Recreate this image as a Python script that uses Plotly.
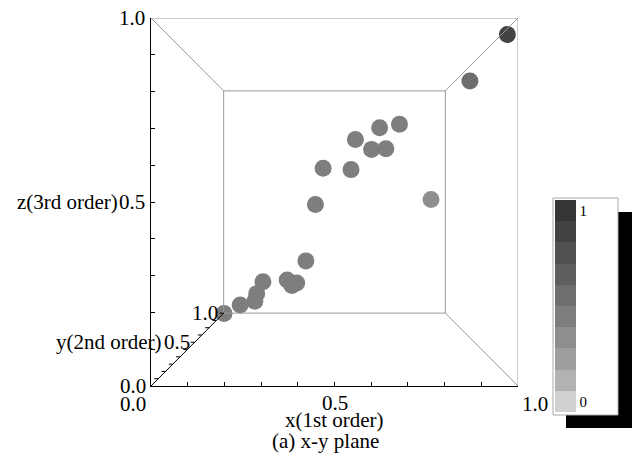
import plotly.graph_objects as go

# Projected positions of the samples on the front frame (x across, z up), unit scale
x_proj = [0.199, 0.243, 0.283, 0.288, 0.305, 0.371, 0.384, 0.397, 0.422, 0.448,
          0.469, 0.545, 0.557, 0.601, 0.640, 0.623, 0.677, 0.763, 0.869, 0.971]
z_proj = [0.197, 0.220, 0.230, 0.251, 0.283, 0.288, 0.273, 0.280, 0.340, 0.493,
          0.592, 0.588, 0.670, 0.643, 0.645, 0.702, 0.711, 0.507, 0.829, 0.955]
# Colour value of each sample (0..1)
level = [0.45, 0.45, 0.45, 0.45, 0.45, 0.45, 0.45, 0.45, 0.45, 0.45,
         0.45, 0.45, 0.45, 0.45, 0.45, 0.45, 0.45, 0.35, 0.55, 0.85]

# Ten grey steps of the colour scale, from 0 (light) to 1 (dark)
band_colors = ["#d0d0d0", "#b2b2b2", "#9e9e9e", "#8e8e8e", "#7e7e7e",
               "#6e6e6e", "#5f5f5f", "#515151", "#434343", "#353535"]
colorbar_ticks = [0.05, 0.95]
colorbar_ticktext = ["0", "1"]

depth_ticks = [i / 10 for i in range(1, 11)]
depth_shrink = 0.396  # how much the back face shrinks relative to the front

W, H = 632, 458
L, R, T, B = 151, 518, 18, 386
FONT = "Liberation Serif, Times New Roman, serif"
FS = 21


def px(x):
    return (x - L) / (R - L)


def py(y):
    return (B - y) / (B - T)


def proj(v, d):
    return 0.5 + (v - 0.5) * (1 - depth_shrink * d)


scale = []
n = len(band_colors)
for i, c in enumerate(band_colors):
    scale.append([i / n, c])
    scale.append([(i + 1) / n, c])

fig = go.Figure()
fig.add_trace(go.Scatter(
    x=x_proj, y=z_proj, mode="markers", cliponaxis=False, showlegend=False,
    marker=dict(size=17, color=level, cmin=0, cmax=1, colorscale=scale,
                line=dict(width=0),
                colorbar=dict(
                    x=px(555), xanchor="left", xpad=0,
                    y=py(306), yanchor="middle", ypad=0,
                    lenmode="pixels", len=212, thickness=21,
                    outlinewidth=0, borderwidth=0, bgcolor="rgba(0,0,0,0)",
                    tickmode="array", tickvals=colorbar_ticks,
                    ticktext=colorbar_ticktext, ticks="", ticklen=0,
                    tickfont=dict(family=FONT, size=15, color="black"),
                ))))

shapes = []
grey = "#9a9a9a"
# back face
b0, b1 = proj(0, 1), proj(1, 1)
shapes.append(dict(type="rect", xref="x", yref="y", x0=b0, x1=b1, y0=b0, y1=b1,
                   line=dict(color=grey, width=1)))
# top and right edges of the front face
shapes.append(dict(type="line", xref="x", yref="y", x0=0, y0=1, x1=1, y1=1,
                   line=dict(color=grey, width=1)))
shapes.append(dict(type="line", xref="x", yref="y", x0=1, y0=0, x1=1, y1=1,
                   line=dict(color=grey, width=1)))
# receding edges
for cx, cz in [(0, 1), (1, 1), (1, 0)]:
    shapes.append(dict(type="line", xref="x", yref="y", x0=cx, y0=cz,
                       x1=proj(cx, 1), y1=proj(cz, 1), line=dict(color=grey, width=1)))
# depth (y) axis along the lower-left receding edge
shapes.append(dict(type="line", xref="x", yref="y", x0=0, y0=0,
                   x1=proj(0, 1), y1=proj(0, 1), line=dict(color="black", width=1)))
tick_w = 4 / (R - L)
for d in depth_ticks:
    p = proj(0, d)
    shapes.append(dict(type="line", xref="x", yref="y", x0=p - tick_w, y0=p,
                       x1=p, y1=p, line=dict(color="black", width=1)))

# colour bar box with drop shadow
shapes.append(dict(type="rect", xref="paper", yref="paper",
                   x0=px(566), x1=px(632), y0=py(428), y1=py(212),
                   line=dict(width=0), fillcolor="black", layer="above"))
shapes.append(dict(type="rect", xref="paper", yref="paper",
                   x0=px(553), x1=px(618), y0=py(415), y1=py(198),
                   line=dict(color="#a8a8a8", width=1), fillcolor="white", layer="above"))

ann = []


def label(text, x, y, xanchor="center", size=FS):
    ann.append(dict(text=text, xref="paper", yref="paper", x=px(x), y=py(y),
                    xanchor=xanchor, yanchor="middle", showarrow=False,
                    font=dict(family=FONT, size=size, color="black")))


# z axis
label("1.0", 147, 18, "right")
label("0.5", 147, 202, "right")
label("z(3rd order)", 120, 202, "right")
label("0.0", 148, 386, "right")
# x axis
label("0.0", 148, 404, "right")
label("0.5", 335, 403, "center")
label("1.0", 520, 404, "left")
label("x(1st order)", 334, 420, "center")
label("(a) x-y plane", 325, 441, "center")
# y axis
label("1.0", 220, 313, "right")
label("0.5", 192, 342, "right")
label("y(2nd order)", 164, 342, "right")

axis_common = dict(range=[0, 1], showgrid=False, zeroline=False, showline=True,
                   linecolor="black", linewidth=1, ticks="inside", ticklen=4,
                   tickcolor="black", dtick=0.1, tick0=0, showticklabels=False,
                   fixedrange=True)
fig.update_layout(
    width=W, height=H,
    margin=dict(l=L, r=W - R, t=T, b=H - B),
    paper_bgcolor="white", plot_bgcolor="white",
    xaxis=dict(**axis_common),
    yaxis=dict(**axis_common),
    shapes=shapes, annotations=ann,
)

fig.write_html("out.html")
